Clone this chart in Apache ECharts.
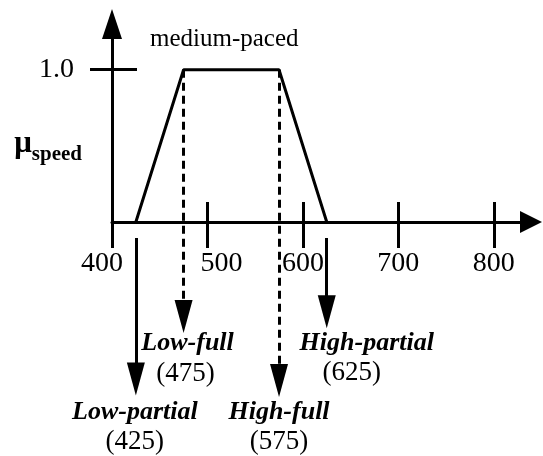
<!DOCTYPE html>
<html lang="en">
<head>
<meta charset="UTF-8">
<title>medium-paced</title>
<script src="https://cdn.jsdelivr.net/npm/echarts@6/dist/echarts.min.js"></script>
<style>
  html, body { margin: 0; padding: 0; background: #fff; }
  #chart { width: 543px; height: 456px; }
</style>
</head>
<body>
<div id="chart"></div>
<script>
// membership function of "medium-paced" speed
var speedX = [425, 475, 575, 625];
var muY = [0, 1, 1, 0];
var xTicks = [400, 500, 600, 700, 800];
var yTicks = [1.0];

// alpha cuts pointed at below the axis
var cutValues = [425, 475, 575, 625];
var cutNames = ['Low-partial', 'Low-full', 'High-full', 'High-partial'];
var cutDashed = [false, true, true, false];

// layout of the arrows (mu units, below the axis) and label nudges (px)
var arrowFrom = [-0.105, 1, 1, -0.105];
var arrowTo = [-1.03, -0.62, -1.04, -0.59];
var labelGap = [18, 12, 17, 16];
var labelShift = [[-2, -2], [8, 4], [0, 0], [80, 50]];

var FONT = 'Liberation Serif';

var chart = echarts.init(document.getElementById('chart'));

var cutLines = cutValues.map(function (v, i) {
  var pad1 = labelShift[i][0], pad2 = labelShift[i][1];
  return [
    {
      coord: [v, arrowFrom[i]],
      symbol: 'none',
      lineStyle: { type: cutDashed[i] ? [8, 5] : 'solid' },
      label: {
        distance: labelGap[i],
        formatter: '{t|' + cutNames[i] + '}\n{v|(' + v + ')}',
        rich: {
          t: { fontFamily: FONT, fontSize: 26, fontStyle: 'italic', fontWeight: 'bold', color: '#000', lineHeight: 30,
               padding: pad1 >= 0 ? [0, 0, 0, pad1] : [0, -pad1, 0, 0] },
          v: { fontFamily: FONT, fontSize: 27, color: '#000', lineHeight: 30,
               padding: pad2 >= 0 ? [0, 0, 0, pad2] : [0, -pad2, 0, 0] }
        }
      }
    },
    { coord: [v, arrowTo[i]], symbol: 'triangle', symbolSize: [18, 33] }
  ];
});

var option = {
  animation: false,
  backgroundColor: '#fff',
  title: {
    text: 'medium-paced',
    left: 150, top: 27, padding: 0,
    textStyle: { fontFamily: FONT, fontSize: 25, fontWeight: 'normal', color: '#000' }
  },
  grid: [
    { left: 112, top: 24, width: 419, height: 198, outerBoundsMode: 'none', containLabel: false },
    { left: 112, top: 24, width: 419, height: 396, outerBoundsMode: 'none', containLabel: false }
  ],
  xAxis: [
    {
      gridIndex: 0, type: 'value', min: 400, max: 839, position: 'bottom',
      axisLine: { onZero: false, lineStyle: { color: '#000', width: 3 }, symbol: ['none', 'triangle'], symbolSize: [22, 22] },
      axisTick: { inside: false, length: 26, customValues: xTicks, lineStyle: { color: '#000', width: 3 } },
      axisLabel: {
        customValues: xTicks, margin: 28,
        formatter: function (v) {
          if (v === 400) return '{l|400}';
          if (v === 500) return '{r|500}';
          return '{n|' + v + '}';
        },
        rich: {
          n: { fontFamily: FONT, fontSize: 28, color: '#000' },
          l: { fontFamily: FONT, fontSize: 28, color: '#000', padding: [0, 20, 0, 0] },
          r: { fontFamily: FONT, fontSize: 28, color: '#000', padding: [0, 0, 0, 28] }
        }
      },
      splitLine: { show: false }
    },
    {
      gridIndex: 0, type: 'value', min: 400, max: 839, position: 'bottom',
      axisLine: { show: false, onZero: false },
      axisTick: { inside: true, length: 20, customValues: xTicks.slice(1), lineStyle: { color: '#000', width: 3 } },
      axisLabel: { show: false },
      splitLine: { show: false }
    },
    { gridIndex: 1, type: 'value', min: 400, max: 839, show: false }
  ],
  yAxis: [
    {
      gridIndex: 0, type: 'value', min: 0, max: 1.3, position: 'left',
      axisLine: { onZero: false, lineStyle: { color: '#000', width: 3 }, symbol: ['none', 'triangle'], symbolSize: [20, 30] },
      axisTick: { inside: false, length: 22, customValues: yTicks, lineStyle: { color: '#000', width: 3 } },
      axisLabel: {
        customValues: yTicks, margin: 38,
        formatter: function (v) { return v.toFixed(1); },
        fontFamily: FONT, fontSize: 28, color: '#000'
      },
      splitLine: { show: false },
      name: '{m|\u03bc}{s|speed}',
      nameLocation: 'middle', nameRotate: 0, nameGap: 30,
      nameMoveOverlap: false,
      nameTextStyle: {
        padding: [44, 0, 0, 0],
        rich: {
          m: { fontFamily: FONT, fontSize: 31, fontWeight: 'bold', color: '#000', verticalAlign: 'bottom', padding: [0, 0, 2, 0] },
          s: { fontFamily: FONT, fontSize: 21, fontWeight: 'bold', color: '#000', verticalAlign: 'bottom', padding: [0, 0, -4, 0] }
        }
      }
    },
    {
      gridIndex: 0, type: 'value', min: 0, max: 1.3, position: 'left',
      axisLine: { show: false, onZero: false },
      axisTick: { inside: true, length: 25, customValues: yTicks, lineStyle: { color: '#000', width: 3 } },
      axisLabel: { show: false },
      splitLine: { show: false }
    },
    { gridIndex: 1, type: 'value', min: -1.3, max: 1.3, show: false }
  ],
  series: [
    {
      name: 'medium-paced',
      type: 'line',
      xAxisIndex: 0, yAxisIndex: 0,
      data: speedX.map(function (x, i) { return [x, muY[i]]; }),
      showSymbol: false, symbol: 'none',
      lineStyle: { color: '#000', width: 3 },
      silent: true
    },
    {
      name: 'cuts',
      type: 'line',
      xAxisIndex: 2, yAxisIndex: 2,
      data: [],
      clip: false,
      silent: true,
      markLine: {
        silent: true,
        symbol: ['none', 'triangle'],
        symbolSize: 18,
        lineStyle: { color: '#000', width: 3, type: 'solid' },
        label: { show: true, position: 'end' },
        emphasis: { disabled: true },
        data: cutLines
      }
    }
  ]
};

chart.setOption(option);
</script>
</body>
</html>
